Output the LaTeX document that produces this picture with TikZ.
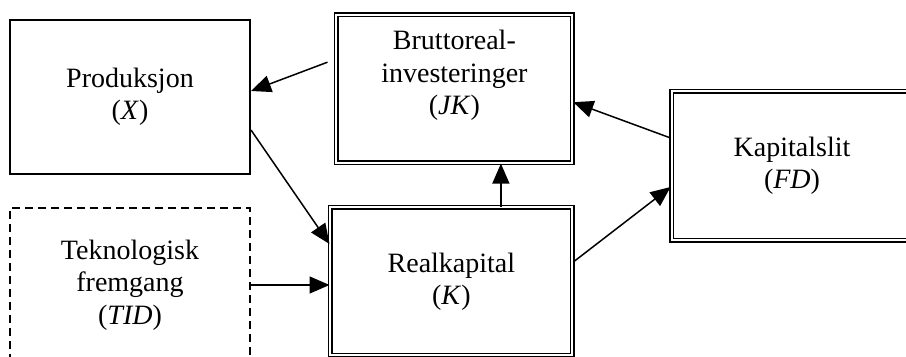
\documentclass[tikz,border=0pt]{standalone}
\usepackage{fontspec}
\setmainfont{Liberation Serif}
\usepackage{tikz}
\usetikzlibrary{arrows.meta, positioning}

\begin{document}
\begin{tikzpicture}[
    x=0.5pt, y=-0.5pt,
    font=\fontsize{14}{16.2}\selectfont,
    box/.style={rectangle, draw, line width=1pt, minimum width=120pt, minimum height=77pt, align=center, inner sep=0pt},
    dbox/.style={rectangle, draw, line width=0.9pt, double, double distance=1pt, minimum height=74pt, align=center, inner sep=0pt},
    dashbox/.style={box, dash pattern=on 4pt off 2.5pt},
    arrow/.style={-{Triangle[length=10pt, width=8.5pt]}, line width=0.75pt}
]
\useasboundingbox (0,0) rectangle (906,357);

\node[box] (prod) at (130,97) {Produksjon\\(\textit{X})};
\node[dashbox, below=16pt of prod] (tek) {Teknologisk\\fremgang\\(\textit{TID})};
\node[dbox, minimum width=121pt, right=39.25pt of tek, yshift=1.75pt] (real) {Realkapital\\(\textit{K})};
\node[dbox, minimum width=118pt, above=21.5pt of real, xshift=1.5pt] (brutto) {Bruttoreal-\\investeringer\\(\textit{JK})\\\mbox{}};
\node[dbox, minimum width=120.5pt, minimum height=74.5pt] (kap) at (792,166) {Kapitalslit\\(\textit{FD})};

\draw[arrow] ([xshift=-4pt, yshift=13.25pt]brutto.west) -- ([yshift=3pt]prod.east);
\draw[arrow] ([yshift=-16.5pt]prod.east) -- ([yshift=18.75pt]real.west);
\draw[arrow] (tek.east) -- (tek.east -| real.west);
\draw[arrow] ([xshift=24.75pt]real.north) -- ([xshift=24.75pt]real.north |- brutto.south);
\draw[arrow] ([yshift=9.75pt]real.east) -- ([yshift=-10.5pt]kap.west);
\draw[arrow] ([yshift=14pt]kap.west) -- ([yshift=-6.75pt]brutto.east);

\end{tikzpicture}
\end{document}
